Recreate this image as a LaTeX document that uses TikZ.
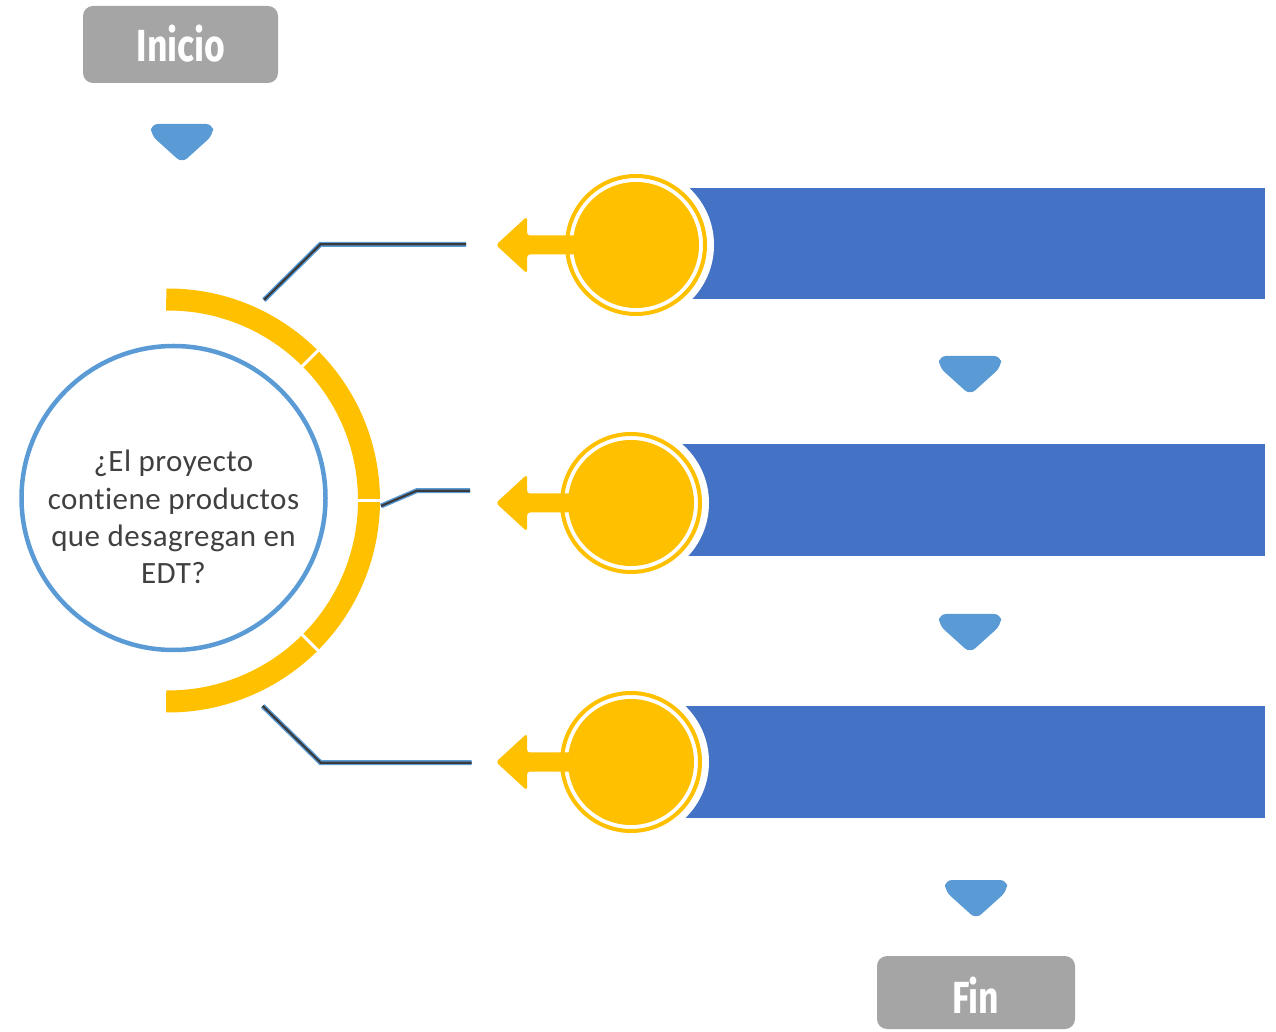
\documentclass[tikz,border=0pt]{standalone}
\usepackage{fontspec}
\usepackage{graphicx}
\setmainfont{Carlito}[Ligatures={NoCommon,NoRequired,NoContextual}, LetterSpace=1.5]
\newfontfamily\headfont{Fira Sans}
\usetikzlibrary{calc}
\definecolor{gold}{HTML}{FFC000}
\definecolor{barblue}{HTML}{4472C4}
\definecolor{lblue}{HTML}{5B9BD5}
\definecolor{boxgray}{HTML}{A5A5A5}
\definecolor{txtgray}{HTML}{404040}
\definecolor{linedark}{HTML}{3A3A3A}
\tikzset{
  termbox/.style={fill=boxgray, rounded corners=10pt, inner sep=0pt},
  termtext/.style={text=white, font=\headfont\bfseries\fontsize{45}{45}\selectfont, inner sep=0pt},
  chev/.pic={\fill[lblue, rounded corners=7pt] (-31,0) -- (31,0) -- (31,-11) -- (0,-39) -- (-31,-11) -- cycle;},
  connector/.style={draw=linedark, line width=2.2pt, preaction={draw=lblue, line width=5pt}},
  ringarc/.style={draw=gold, line width=22pt},
  sep/.style={draw=white, line width=3pt}
}
\begin{document}
\begin{tikzpicture}[x=1pt,y=1pt]
\useasboundingbox (0,0) rectangle (1276,1031);

% start / end boxes
\node[termbox, minimum width=195pt, minimum height=77pt] (inicio) at (180.5,986.5) {};
\node[termtext] (inicioT) at (181,987) {\scalebox{0.79}[1]{Inicio}};
\node[termbox, minimum width=198pt, minimum height=73pt] (fin) at (976,38.5) {};
\node[termtext] (finT) at (976,36) {\scalebox{0.79}[1]{Fin}};

% chevrons
\pic at (182,907) {chev};
\pic at (970,675) {chev};
\pic at (970,417) {chev};
\pic at (976,151) {chev};

% bars with yellow circles and arrows
\foreach \cx/\cy/\bt/\bb [count=\i] in {636/786/843/732, 631/528/587/475, 631/269/325/213}{
  \coordinate (c\i) at (\cx,\cy);
  \fill[barblue] (\cx,\bb) rectangle (1265,\bt);
  \fill[white] (c\i) circle (78pt);
  \draw[gold, line width=4pt] (c\i) circle (69pt);
  \fill[gold, rounded corners=3pt] (\cx-55,\cy+9.5) -- (527,\cy+9.5) -- (527,\cy+28.5) -- (496,\cy) -- (527,\cy-28.5) -- (527,\cy-9.5) -- (\cx-55,\cy-9.5) -- cycle;
  \fill[gold] (c\i) circle (63pt);
}

% main circle
\node[draw=lblue, line width=4.5pt, circle, minimum size=304pt, inner sep=0pt] (main) at (173.5,533) {};
\node[text=txtgray, font=\fontsize{31}{37.3}\selectfont, align=center] (q) at (173.5,514) {¿El proyecto\\contiene productos\\que desagregan en\\EDT?};

% yellow segmented arc
\coordinate (ac) at (168,530.5);
\draw[ringarc] ([shift={(90.5:201pt)}]ac) arc[start angle=90.5, end angle=-90.5, radius=201pt];
\foreach \a in {45,0,-45}{
  \draw[sep] ([shift={(\a:186pt)}]ac) -- ([shift={(\a:216pt)}]ac);
}

% connectors
\coordinate (t1) at (264,731); \coordinate (t2) at (320.5,786.7); \coordinate (t3) at (466,786.7);
\coordinate (m1) at (381,525); \coordinate (m2) at (416.7,540.3); \coordinate (m3) at (470,540.3);
\coordinate (b1) at (262.7,325); \coordinate (b2) at (320.7,268.3); \coordinate (b3) at (471.7,268.3);
\draw[connector] (t1) -- (t2) -- (t3);
\draw[connector] (m1) -- (m2) -- (m3);
\draw[connector] (b1) -- (b2) -- (b3);
\end{tikzpicture}
\end{document}
